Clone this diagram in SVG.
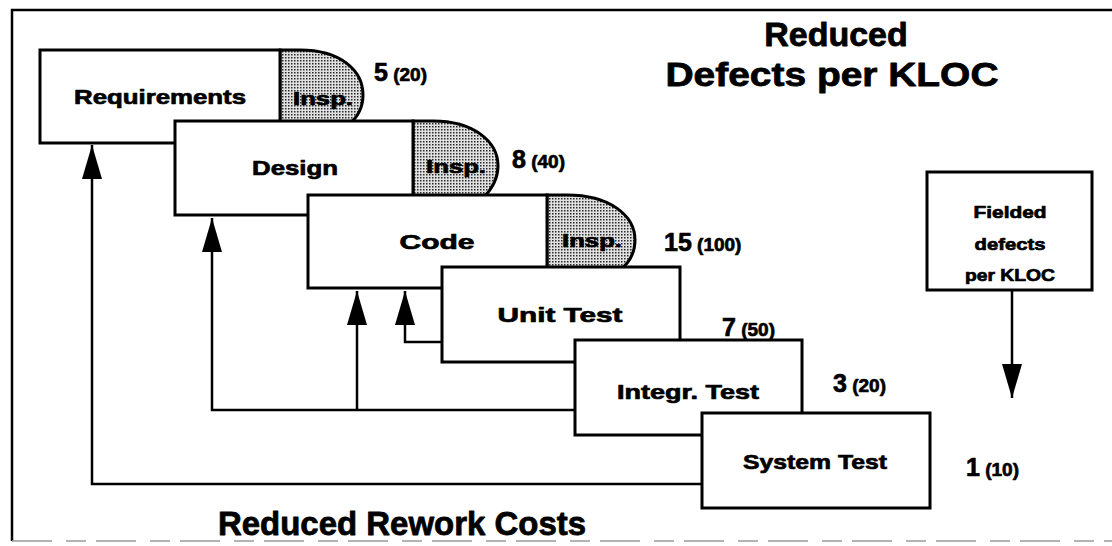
<svg xmlns="http://www.w3.org/2000/svg" width="1112" height="546" viewBox="0 0 1112 546">
<style>
  .box{fill:#fff;stroke:#000;stroke-width:3;stroke-linejoin:miter}
  .insp{fill:url(#dots);stroke:#000;stroke-width:3}
  text{font-family:"Liberation Sans",Arial,sans-serif;font-weight:bold;fill:#000;stroke:#000;stroke-width:0.7;stroke-linejoin:round}
  .lbl{font-size:21px;text-anchor:middle}
  .fld{font-size:17px;text-anchor:middle}
  .ins{font-size:19px;text-anchor:middle}
  .big{font-size:25px}
  .par{font-size:19px}
  .title{font-size:34px;text-anchor:middle;stroke-width:0.8}
  .conn{fill:none;stroke:#000;stroke-width:2.5}
</style>
<defs>
  <pattern id="dots" width="3" height="3" patternUnits="userSpaceOnUse">
    <rect width="3" height="3" fill="#e0e0e0"/>
    <rect width="1.5" height="1.5" fill="#2a2a2a"/>
  </pattern>
  <marker id="ah" markerUnits="userSpaceOnUse" markerWidth="34" markerHeight="20" viewBox="0 0 34 20" refX="34" refY="10" orient="auto">
    <path d="M0,0 L34,10 L0,20 Z" fill="#000"/>
  </marker>
</defs>

<g id="frame">
  <path d="M1112,10 H12 V541" fill="none" stroke="#000" stroke-width="2.5"/>
  <path d="M12,541 H1112" fill="none" stroke="#999" stroke-width="1.5" stroke-dasharray="40,14,20,10"/>
</g>

<g id="titles">
  <text class="title" x="836" y="46">Reduced</text>
  <text class="title" x="832" y="86" textLength="333" lengthAdjust="spacingAndGlyphs">Defects per KLOC</text>
  <text class="title" x="402" y="535" textLength="368" lengthAdjust="spacingAndGlyphs">Reduced Rework Costs</text>
</g>

<g id="connectors">
  <path class="conn" d="M702,484 H92 V145" marker-end="url(#ah)"/>
  <path class="conn" d="M575,410 H212 V218" marker-end="url(#ah)"/>
  <path class="conn" d="M357,410 V291" marker-end="url(#ah)"/>
  <path class="conn" d="M442,342 H405 V291" marker-end="url(#ah)"/>
  <path class="conn" d="M1012,290 V398" marker-end="url(#ah)"/>
</g>

<g id="requirements">
  <path class="insp" d="M280,50 H300 C340,50 363,70 363,95 C363,108 357,118 348,125 L280,125 Z"/>
  <rect class="box" x="40" y="50" width="240" height="93"/>
  <text class="lbl" x="160" y="104" textLength="172" lengthAdjust="spacingAndGlyphs">Requirements</text>
  <text class="ins" x="323" y="105" textLength="60" lengthAdjust="spacingAndGlyphs">Insp.</text>
  <text x="374" y="81"><tspan class="big">5</tspan><tspan class="par"> (20)</tspan></text>
</g>

<g id="design">
  <path class="insp" d="M413,121 H433 C473,121 498,141 498,166 C498,179 492,189 483,198 L413,198 Z"/>
  <rect class="box" x="175" y="121" width="238" height="94"/>
  <text class="lbl" x="295" y="175" textLength="86" lengthAdjust="spacingAndGlyphs">Design</text>
  <text class="ins" x="456" y="173" textLength="60" lengthAdjust="spacingAndGlyphs">Insp.</text>
  <text x="512" y="168"><tspan class="big">8</tspan><tspan class="par"> (40)</tspan></text>
</g>

<g id="code">
  <path class="insp" d="M547,195 H567 C609,195 635,215 635,240 C635,253 629,263 620,270 L547,270 Z"/>
  <rect class="box" x="308" y="195" width="239" height="93"/>
  <text class="lbl" x="437" y="249" textLength="75" lengthAdjust="spacingAndGlyphs">Code</text>
  <text class="ins" x="592" y="247" textLength="60" lengthAdjust="spacingAndGlyphs">Insp.</text>
  <text x="664" y="251"><tspan class="big">15</tspan><tspan class="par"> (100)</tspan></text>
</g>

<g id="unit-test">
  <rect class="box" x="442" y="267" width="238" height="95"/>
  <text class="lbl" x="560" y="322" textLength="125" lengthAdjust="spacingAndGlyphs">Unit Test</text>
  <text x="722" y="336"><tspan class="big">7</tspan><tspan class="par"> (50)</tspan></text>
</g>

<g id="integr-test">
  <rect class="box" x="575" y="340" width="227" height="95"/>
  <text class="lbl" x="688" y="399" textLength="142" lengthAdjust="spacingAndGlyphs">Integr. Test</text>
  <text x="833" y="392"><tspan class="big">3</tspan><tspan class="par"> (20)</tspan></text>
</g>

<g id="system-test">
  <rect class="box" x="702" y="413" width="228" height="95"/>
  <text class="lbl" x="815" y="469" textLength="144" lengthAdjust="spacingAndGlyphs">System Test</text>
  <text x="966" y="476"><tspan class="big">1</tspan><tspan class="par"> (10)</tspan></text>
</g>

<g id="fielded">
  <rect class="box" x="927" y="172" width="165" height="118"/>
  <text class="fld" x="1010" y="218" textLength="73" lengthAdjust="spacingAndGlyphs">Fielded</text>
  <text class="fld" x="1010" y="250" textLength="71" lengthAdjust="spacingAndGlyphs">defects</text>
  <text class="fld" x="1010" y="281" textLength="90" lengthAdjust="spacingAndGlyphs">per KLOC</text>
</g>
</svg>
